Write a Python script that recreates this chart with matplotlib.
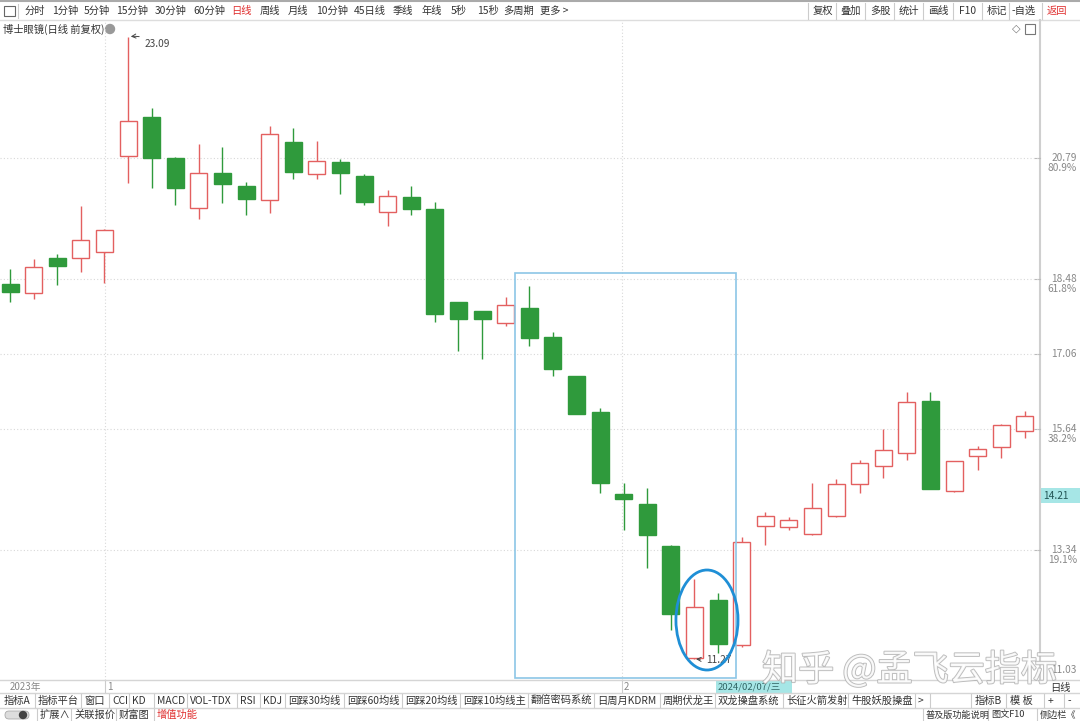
import matplotlib
matplotlib.use('Agg')
import matplotlib.pyplot as plt
import matplotlib.patches as mpatches
import matplotlib.patheffects as pe

plt.rcParams['font.family'] = ['Noto Sans CJK SC', 'DejaVu Sans']

# 日K数据 (开, 高, 低, 收)
opens = [18.39, 18.22, 18.89, 18.89, 19.00, 20.83, 21.57, 20.79, 19.84, 20.50,
         20.26, 19.99, 21.09, 20.49, 20.71, 20.45, 19.76, 20.05, 19.82, 18.05,
         17.88, 17.65, 17.94, 17.39, 16.65, 15.96, 14.40, 14.21, 13.41, 11.29,
         12.39, 11.53, 13.79, 13.77, 13.64, 13.98, 14.59, 14.93, 15.18, 16.17,
         14.46, 15.12, 15.30, 15.60]
highs = [18.68, 18.87, 18.97, 19.88, 19.44, 23.09, 21.74, 20.81, 21.06, 21.00,
         20.33, 21.40, 21.36, 21.11, 20.77, 20.49, 20.18, 20.26, 19.95, 18.05,
         17.88, 18.15, 18.36, 17.48, 16.65, 16.04, 14.61, 14.52, 13.43, 12.79,
         12.52, 13.58, 14.06, 13.97, 14.61, 14.69, 15.05, 15.64, 16.34, 16.34,
         15.03, 15.31, 15.73, 15.98]
lows = [18.05, 18.11, 18.38, 18.62, 18.41, 20.31, 20.22, 19.90, 19.63, 19.93,
        19.71, 19.74, 20.39, 20.39, 20.11, 19.90, 19.50, 19.71, 17.67, 17.12,
        16.97, 17.60, 17.22, 16.65, 15.92, 14.42, 13.72, 13.00, 11.82, 11.27,
        11.38, 11.49, 13.43, 13.72, 13.62, 13.96, 14.42, 14.71, 15.05, 14.50,
        14.44, 14.86, 15.09, 15.47]
closes = [18.24, 18.72, 18.74, 19.23, 19.42, 21.49, 20.79, 20.22, 20.50, 20.30,
          20.01, 21.25, 20.52, 20.73, 20.50, 19.95, 20.07, 19.82, 17.82, 17.73,
          17.73, 18.00, 17.37, 16.78, 15.92, 14.61, 14.31, 13.62, 12.12, 12.25,
          11.55, 13.49, 13.98, 13.91, 14.14, 14.59, 14.99, 15.24, 16.15, 14.50,
          15.03, 15.26, 15.71, 15.89]

price_levels = [20.79, 18.48, 17.06, 15.64, 13.34]
level_pcts = ['80.9%', '61.8%', '', '38.2%', '19.1%']
axis_bottom_price = 11.03
current_price = 14.21

top_tabs = ['分时', '1分钟', '5分钟', '15分钟', '30分钟', '60分钟', '日线', '周线', '月线',
            '10分钟', '45日线', '季线', '年线', '5秒', '15秒', '多周期', '更多 >']
top_tab_x = [25, 52, 84, 116, 155, 193, 231, 260, 288, 316, 354, 393, 421, 451, 477, 503, 540]
right_btns = ['复权', '叠加', '多股', '统计', '画线', 'F10', '标记', '-自选', '返回']
right_btn_x = [823, 851, 880, 909, 938, 968, 997, 1024, 1057]
ind_tabs = ['指标A', '指标平台', '窗口', 'CCI', 'KD', 'MACD', 'VOL-TDX', 'RSI', 'KDJ',
            '回踩30均线', '回踩60均线', '回踩20均线', '回踩10均线主', '翻倍密码系统',
            '日周月KDRM', '周期伏龙王', '双龙操盘系统', '长征火箭发射', '牛股妖股操盘', '>']
ind_tab_x = [4, 38, 84, 112, 132, 157, 190, 240, 263, 288, 347, 405, 463, 531,
             597, 663, 718, 786, 851, 918]

RED = '#e36060'
GREEN = '#2f9a3c'
TXT = '#333333'
GRAY = '#888888'
FS = 7.4

fig = plt.figure(figsize=(10.8, 7.21), dpi=100)
fig.patch.set_facecolor('white')

# 界面层 (像素坐标)
ui = fig.add_axes([0, 0, 1, 1])
ui.set_xlim(0, 1080)
ui.set_ylim(721, 0)
ui.axis('off')

# 顶部工具栏
ui.plot([0, 1080], [1, 1], color='#aaaaaa', lw=1.5)
ui.plot([0, 1080], [20, 20], color='#dddddd', lw=1)
ui.add_patch(mpatches.Rectangle((4, 6), 11, 10, fill=False, ec='#666666', lw=0.8))
ui.plot([18, 18], [4, 18], color='#cccccc', lw=0.8)
for t, x in zip(top_tabs, top_tab_x):
    ui.text(x, 11, t, fontsize=FS, color=('#e03030' if t == '日线' else TXT),
            va='center', ha='left')
for t, x in zip(right_btns, right_btn_x):
    ui.text(x, 11, t, fontsize=FS, color=('#e03030' if t == '返回' else TXT),
            va='center', ha='center')
    ui.plot([x - 15, x - 15], [3, 19], color='#cccccc', lw=0.8)

# 标题
ui.text(3, 29, '博士眼镜(日线 前复权)', fontsize=FS, color=TXT, va='center')
ui.add_patch(mpatches.Circle((110, 29), 4.5, color='#999999'))
ui.text(1016, 29, '◇', fontsize=8, color='#777777', va='center', ha='center',
        family='DejaVu Sans')
ui.add_patch(mpatches.Rectangle((1025, 24), 10, 10, fill=False, ec='#777777', lw=0.8))

# 右侧价格轴
ui.plot([1040, 1040], [20, 680], color='#cfcfcf', lw=1.5)
ui.add_patch(mpatches.Rectangle((1040, 488), 40, 15, color='#a6e6e6', lw=0))

# 底部栏
ui.plot([0, 1080], [680, 680], color='#d5d5d5', lw=1)
ui.plot([0, 1080], [693, 693], color='#d5d5d5', lw=1)
ui.plot([0, 1080], [708, 708], color='#d5d5d5', lw=1)
ui.text(10, 687, '2023年', fontsize=7, color=GRAY, va='center')
ui.plot([105, 105], [681, 692], color='#cccccc', lw=0.8)
ui.text(107, 687, '1', fontsize=7, color=GRAY, va='center')
ui.plot([622, 622], [681, 692], color='#cccccc', lw=0.8)
ui.text(624, 687, '2', fontsize=7, color=GRAY, va='center')
ui.add_patch(mpatches.Rectangle((716, 680), 76, 13, color='#a6e6e6', lw=0))
ui.text(718, 687, '2024/02/07/三', fontsize=6.8, color='#336666', va='center')
ui.text(1050, 688, '日线', fontsize=FS, color=TXT, va='center')

for t, x in zip(ind_tabs, ind_tab_x):
    ui.text(x, 701, t, fontsize=FS, color=TXT, va='center')
    if x > 10:
        ui.plot([x - 3, x - 3], [694, 707], color='#cccccc', lw=0.8)
ui.plot([930, 930], [694, 707], color='#cccccc', lw=0.8)
for t, x in zip(['指标B', '模 板', '+', '-'], [975, 1010, 1048, 1068]):
    ui.text(x, 701, t, fontsize=FS, color=TXT, va='center')
    ui.plot([x - 4, x - 4], [694, 707], color='#cccccc', lw=0.8)

ui.add_patch(mpatches.FancyBboxPatch((5, 711), 24, 8, boxstyle='round,pad=0,rounding_size=4',
                                     fc='#dddddd', ec='#aaaaaa', lw=0.6))
ui.add_patch(mpatches.Circle((23, 715), 3.5, color='#444444'))
for t, x, c in zip(['扩展∧', '关联报价', '财富图', '增值功能'], [40, 74, 119, 157],
                   [TXT, TXT, TXT, '#e03030']):
    ui.text(x, 715, t, fontsize=FS, color=c, va='center')
    ui.plot([x - 3, x - 3], [709, 721], color='#cccccc', lw=0.8)
for t, x in zip(['普及版功能说明', '图文F10', '侧边栏《'], [926, 991, 1040]):
    ui.text(x, 715, t, fontsize=6.6, color=TXT, va='center')
    ui.plot([x - 3, x - 3], [709, 721], color='#cccccc', lw=0.8)

# 主图 K线
ax = fig.add_axes([0, 41 / 721, 1040 / 1080, 660 / 721])
ax.patch.set_alpha(0)
ax.set_xlim(-0.424, 43.64)
ax.set_ylim(10.87, 23.41)
ax.axis('off')

for lv in price_levels:
    ax.axhline(lv, color='#d8d8d8', lw=0.8, ls=(0, (1, 2)), zorder=0)
for xv in [4.03, 25.95]:
    ax.axvline(xv, color='#d8d8d8', lw=0.8, ls=(0, (1, 2)), zorder=0)

w = 0.72
for i in range(len(opens)):
    o, h, l, c = opens[i], highs[i], lows[i], closes[i]
    up = c >= o
    col = RED if up else GREEN
    ax.vlines(i, l, h, color=col, lw=1, zorder=2)
    ax.bar(i, abs(c - o) if abs(c - o) > 0.02 else 0.02, bottom=min(o, c), width=w,
           facecolor=('white' if up else GREEN), edgecolor=col, lw=1, zorder=3)

imax = highs.index(max(highs))
ax.annotate('%.2f' % highs[imax], xy=(imax, highs[imax]), xytext=(12, -5),
            textcoords='offset points', fontsize=7.3, color='#444444', va='center',
            arrowprops=dict(arrowstyle='->', color='#444444', lw=0.7,
                            connectionstyle='arc3,rad=0.2'))
imin = lows.index(min(lows))
ax.annotate('%.2f' % lows[imin], xy=(imin - 0.05, lows[imin]), xytext=(9, -1),
            textcoords='offset points', fontsize=7.3, color='#444444', va='center',
            arrowprops=dict(arrowstyle='->', color='#444444', lw=0.7))

# 标注框
ax.add_patch(mpatches.Rectangle((21.4, 10.90), 9.36, 7.70, fill=False,
                                ec='#8cc6e6', lw=1.2, zorder=4))
ax.add_patch(mpatches.Ellipse((29.53, 12.01), 2.63, 1.90, fill=False,
                              ec='#1f8fd6', lw=2, zorder=5))

# 右侧刻度
for lv, pct in zip(price_levels, level_pcts):
    yp = 20 + (23.41 - lv) / (23.41 - 10.87) * 660
    ui.plot([1035, 1040], [yp, yp], color='#bbbbbb', lw=0.8)
    ui.text(1077, yp, '%.2f' % lv, fontsize=7.3, color=GRAY, ha='right', va='center')
    if pct:
        ui.text(1077, yp + 10, pct, fontsize=7.3, color=GRAY, ha='right', va='center')
ui.text(1043, 496, '%.2f' % current_price, fontsize=7.3, color='#225555', va='center')
ui.text(1077, 670, '%.2f' % axis_bottom_price, fontsize=7.3, color=GRAY,
        ha='right', va='center')

# 水印
wm = ui.text(762, 670, '知乎 @孟飞云指标', fontsize=26, color='white', alpha=0.85,
             va='center', ha='left', zorder=10)
wm.set_path_effects([pe.Stroke(linewidth=1.3, foreground='#b0b0b0'), pe.Normal()])

fig.savefig('out.png', dpi=100)
plt.close(fig)
